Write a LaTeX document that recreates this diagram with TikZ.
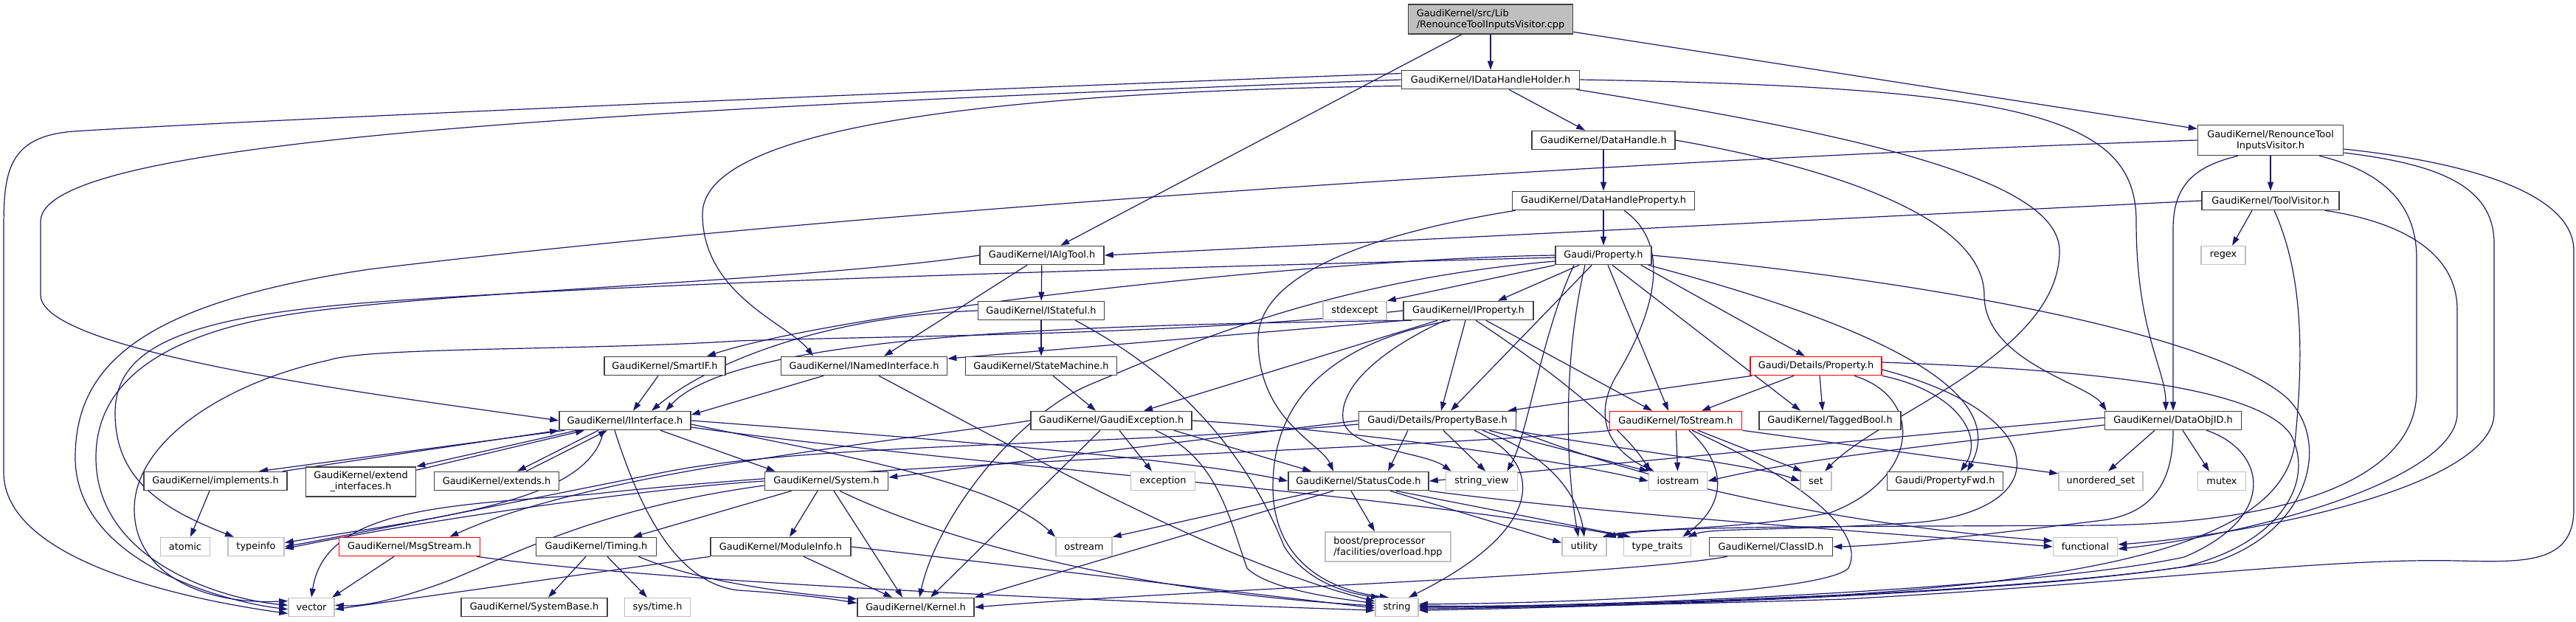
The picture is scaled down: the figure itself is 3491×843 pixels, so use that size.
\documentclass[tikz,border=0pt]{standalone}
\usepackage{fontspec}
\setmainfont{DejaVu Sans}
\usetikzlibrary{arrows.meta,calc}
\definecolor{mblue}{HTML}{191970}
\definecolor{gdark}{HTML}{404040}
\definecolor{glight}{HTML}{BFBFBF}
\pgfdeclarelayer{bgfill}
\pgfdeclarelayer{edges}
\pgfsetlayers{bgfill,edges,main}
\tikzset{
  hnode/.style={draw=gdark, line width=1.6pt, fill=white, inner sep=0pt, minimum height=25pt, font=\fontsize{12.9}{15}\selectfont, text=black},
  snode/.style={hnode, draw=glight},
  rnode/.style={hnode, draw=red},
  gnode/.style={hnode, fill=glight},
  inc/.style={draw=mblue, line width=1.2pt, -{Triangle[length=12pt,width=8pt]}},
}
\begin{document}
\begin{tikzpicture}[x=1pt,y=-1pt]
\begin{pgfonlayer}{bgfill}
\fill[white] (0,0) rectangle (3491,843);
\end{pgfonlayer}
\useasboundingbox (0,0) rectangle (3491,843);
% ---------------- nodes
\node[gnode, minimum width=223pt, minimum height=40pt, align=left] (root) at (2020,26) {GaudiKernel/src/Lib\\/RenounceToolInputsVisitor.cpp};
\node[hnode, minimum width=241pt] (idhh) at (2020,108) {GaudiKernel/IDataHandleHolder.h};
\node[hnode, minimum width=197pt, minimum height=41pt, align=center] (rtiv) at (3077,190) {GaudiKernel/RenounceTool\\InputsVisitor.h};
\node[hnode, minimum width=194pt] (dh) at (2173,190) {GaudiKernel/DataHandle.h};
\node[hnode, minimum width=247pt] (dhp) at (2173,272) {GaudiKernel/DataHandleProperty.h};
\node[hnode, minimum width=186pt] (tv) at (3077,272) {GaudiKernel/ToolVisitor.h};
\node[snode, minimum width=60pt] (regex) at (3013,346) {regex};
\node[hnode, minimum width=168pt] (ialgtool) at (1412,346) {GaudiKernel/IAlgTool.h};
\node[hnode, minimum width=130pt] (prop) at (2173,346) {Gaudi/Property.h};
\node[snode, minimum width=86pt] (stdexcept) at (1836,421) {stdexcept};
\node[hnode, minimum width=176pt] (iprop) at (1990,421) {GaudiKernel/IProperty.h};
\node[hnode, minimum width=171pt] (istateful) at (1411,421) {GaudiKernel/IStateful.h};
\node[hnode, minimum width=164pt] (smartif) at (901,496) {GaudiKernel/SmartIF.h};
\node[hnode, minimum width=225pt] (inamed) at (1171,496) {GaudiKernel/INamedInterface.h};
\node[hnode, minimum width=205pt] (statemachine) at (1411,496) {GaudiKernel/StateMachine.h};
\node[rnode, minimum width=178pt] (dprop) at (2461,496) {Gaudi/Details/Property.h};
\node[hnode, minimum width=178pt] (iiface) at (847,570) {GaudiKernel/IInterface.h};
\node[hnode, minimum width=218pt] (gexc) at (1506,570) {GaudiKernel/GaudiException.h};
\node[hnode, minimum width=213pt] (pbase) at (1948,570) {Gaudi/Details/PropertyBase.h};
\node[rnode, minimum width=179pt] (tostream) at (2271,570) {GaudiKernel/ToStream.h};
\node[hnode, minimum width=192pt] (tagged) at (2480,570) {GaudiKernel/TaggedBool.h};
\node[hnode, minimum width=185pt] (dataobjid) at (2945,570) {GaudiKernel/DataObjID.h};
\node[hnode, minimum width=194pt] (implements) at (292,652) {GaudiKernel/implements.h};
\node[hnode, minimum width=149pt, minimum height=40pt, align=center] (extif) at (489,653) {GaudiKernel/extend\\\_interfaces.h};
\node[hnode, minimum width=169pt] (extends) at (673,652) {GaudiKernel/extends.h};
\node[hnode, minimum width=167pt] (system) at (1120,652) {GaudiKernel/System.h};
\node[snode, minimum width=87pt] (exception) at (1576,652) {exception};
\node[hnode, minimum width=190pt] (statuscode) at (1841,652) {GaudiKernel/StatusCode.h};
\node[snode, minimum width=97pt] (stringview) at (2008,652) {string\_view};
\node[snode, minimum width=79pt] (iostream) at (2274,652) {iostream};
\node[snode, minimum width=42pt] (set) at (2461,652) {set};
\node[hnode, minimum width=157pt] (propfwd) at (2636,652) {Gaudi/PropertyFwd.h};
\node[snode, minimum width=114pt] (uset) at (2847,652) {unordered\_set};
\node[snode, minimum width=65pt] (mutex) at (3011,652) {mutex};
\node[snode, minimum width=67pt] (atomic) at (251,741) {atomic};
\node[snode, minimum width=76pt] (typeinfo) at (347,741) {typeinfo};
\node[rnode, minimum width=191pt] (msgstream) at (555,741) {GaudiKernel/MsgStream.h};
\node[hnode, minimum width=163pt] (timing) at (808,741) {GaudiKernel/Timing.h};
\node[hnode, minimum width=190pt] (moduleinfo) at (1058,741) {GaudiKernel/ModuleInfo.h};
\node[snode, minimum width=76pt] (ostream) at (1469,741) {ostream};
\node[snode, minimum width=170pt, minimum height=40pt, align=left] (boost) at (1881,741) {boost/preprocessor\\/facilities/overload.hpp};
\node[snode, minimum width=60pt] (utility) at (2147,741) {utility};
\node[snode, minimum width=91pt] (typetraits) at (2246,741) {type\_traits};
\node[hnode, minimum width=167pt] (classid) at (2400,741) {GaudiKernel/ClassID.h};
\node[snode, minimum width=87pt] (functional) at (2826,741) {functional};
\node[snode, minimum width=62pt] (vector) at (422,823) {vector};
\node[hnode, minimum width=198pt] (systembase) at (724,823) {GaudiKernel/SystemBase.h};
\node[snode, minimum width=89pt] (systime) at (891,823) {sys/time.h};
\node[hnode, minimum width=158pt] (kernel) at (1241,823) {GaudiKernel/Kernel.h};
\node[snode, minimum width=58pt] (string) at (1893,823) {string};
% ---------------- edges
\begin{pgfonlayer}{edges}
% root
\draw[inc] (root) -- (idhh);
\draw[inc] (root) -- (ialgtool);
\draw[inc] (root) -- (rtiv);
% IDataHandleHolder
\draw[inc] (idhh) -- (dh);
\draw[inc] (idhh.east) .. controls (2750,118) and (2895,160) .. (2895,300) .. controls (2895,450) and (2935,500) .. ($(dataobjid.north)+(-10,0)$);
\draw[inc] ($(idhh.south east)+(-5,0)$) .. controls (2500,180) and (2791,240) .. (2791,340) .. controls (2791,480) and (2550,560) .. ($(set.north)+(12,0)$);
\draw[inc] (idhh.176) .. controls (1200,125) and (300,165) .. (100,178) .. controls (5,185) and (5,240) .. (5,320) -- (5,640) .. controls (5,760) and (250,812) .. (vector.195);
\draw[inc] (idhh.180) .. controls (800,150) and (55,190) .. (55,300) -- (55,400) .. controls (55,480) and (550,540) .. (iiface.west);
\draw[inc] (idhh.184) .. controls (1300,125) and (952,180) .. (952,290) .. controls (952,400) and (1070,440) .. ($(inamed.north)+(-69,0)$);
% RenounceToolInputsVisitor.h
\draw[inc] (rtiv) -- (tv);
\draw[inc] ($(rtiv.south)+(-44,0)$) .. controls (2975,225) and (2945,250) .. (2945,310) -- (dataobjid.north);
\draw[inc] (rtiv.west) .. controls (2300,212) and (1200,280) .. (500,365) .. controls (200,410) and (102,490) .. (102,620) .. controls (102,760) and (300,815) .. (vector.185);
\draw[inc] ($(rtiv.east)+(0,12)$) .. controls (3300,215) and (3488,250) .. (3488,340) -- (3488,690) .. controls (3488,765) and (3420,762) .. (3330,760) .. controls (3150,756) and (2900,790) .. (2500,812) .. controls (2250,820) and (2050,823) .. (string.0);
\draw[inc] ($(rtiv.east)+(0,17)$) .. controls (3300,222) and (3380,250) .. (3380,330) -- (3380,560) .. controls (3380,660) and (3050,725) .. ($(functional.east)+(0,-3)$);
\draw[inc] ($(rtiv.south east)+(-33,0)$) .. controls (3220,230) and (3275,270) .. (3275,350) -- (3275,530) .. controls (3275,650) and (3100,708) .. (2850,712) .. controls (2500,714) and (2250,712) .. (utility.north east);
% DataHandle
\draw[inc] (dh) -- (dhp);
\draw[inc] (dh.east) .. controls (2500,230) and (2689,300) .. (2689,400) .. controls (2689,490) and (2830,520) .. ($(dataobjid.north west)+(3,0)$);
% DataHandleProperty
\draw[inc] (dhp) -- (prop);
\draw[inc] ($(dhp.south west)+(5,0)$) .. controls (1900,310) and (1705,360) .. (1705,460) .. controls (1705,570) and (1790,600) .. ($(statuscode.north)+(-34,0)$);
\draw[inc] ($(dhp.south)+(28,0)$) .. controls (2265,330) and (2245,420) .. (2190,510) .. controls (2150,580) and (2200,620) .. ($(iostream.north west)+(8,0)$);
% ToolVisitor
\draw[inc] (tv.west) -- (ialgtool.east);
\draw[inc] ($(tv.south)+(-25,0)$) -- ($(regex.north)+(12,0)$);
\draw[inc] ($(tv.south east)+(-20,0)$) .. controls (3250,300) and (3330,340) .. (3330,420) -- (3330,560) .. controls (3330,650) and (3050,725) .. ($(functional.east)+(0,3)$);
\draw[inc] ($(tv.south)+(5,0)$) .. controls (3125,380) and (3120,500) .. (3110,600) .. controls (3095,720) and (2900,780) .. (2500,806) .. controls (2250,818) and (2050,823) .. (string.4);
% IAlgTool
\draw[inc] (ialgtool) -- (istateful);
\draw[inc] ($(ialgtool.south)+(-20,0)$) -- ($(inamed.north)+(27,0)$);
\draw[inc] (ialgtool.west) .. controls (1100,380) and (600,395) .. (400,425) .. controls (200,455) and (130,530) .. (130,620) .. controls (130,760) and (300,812) .. (vector.175);
% Gaudi/Property.h
\draw[inc] ($(prop.south west)+(33,0)$) -- ($(iprop.north east)+(-49,0)$);
\draw[inc] ($(prop.south west)+(50,0)$) -- ($(pbase.north)+(18,0)$);
\draw[inc] ($(prop.south)+(6,0)$) -- ($(tostream.north)+(-10,0)$);
\draw[inc] ($(prop.south)+(12,0)$) -- ($(tagged.north)+(-40,0)$);
\draw[inc] ($(prop.south east)+(-15,0)$) -- ($(dprop.north)+(-15,0)$);
\draw[inc] ($(prop.south east)+(-5,0)$) .. controls (2500,430) and (2730,520) .. ($(propfwd.north)+(30,0)$);
\draw[inc] (prop.east) .. controls (2600,380) and (3000,450) .. (3100,540) .. controls (3160,600) and (3130,720) .. (3000,762) .. controls (2750,805) and (2150,823) .. (string.-4);
\draw[inc] (prop.west) .. controls (1800,350) and (1150,420) .. ($(smartif.north east)+(-26,0)$);
\draw[inc] ($(prop.west)+(0,3)$) .. controls (1700,360) and (900,380) .. (500,410) .. controls (250,430) and (156,470) .. (156,560) .. controls (156,650) and (220,690) .. ($(typeinfo.north)+(-30,0)$);
\draw[inc] (prop.south west) -- (stdexcept.north east);
\draw[inc] ($(prop.west)+(0,8)$) .. controls (1800,380) and (1600,470) .. (1480,520) .. controls (1380,560) and (1270,700) .. ($(kernel.north)+(5,0)$);
\draw[inc] ($(prop.south)+(-40,0)$) .. controls (2090,450) and (2070,590) .. ($(stringview.north east)+(-15,0)$);
\draw[inc] ($(prop.south)+(-25,0)$) .. controls (2120,480) and (2120,620) .. ($(utility.north)+(-8,0)$);
% IProperty
\draw[inc] ($(iprop.south west)+(2,0)$) -- (inamed.5);
\draw[inc] ($(iprop.south west)+(12,0)$) .. controls (1500,440) and (1000,450) .. ($(iiface.north)+(55,0)$);
\draw[inc] ($(iprop.south)+(-42,0)$) -- ($(gexc.north)+(44,0)$);
\draw[inc] ($(iprop.south)+(-4,0)$) -- ($(pbase.north)+(5,0)$);
\draw[inc] ($(iprop.south east)+(-65,0)$) -- ($(tostream.north)+(-32,0)$);
\draw[inc] ($(iprop.south)+(10,0)$) .. controls (2100,500) and (2200,580) .. ($(iostream.north west)+(3,0)$);
\draw[inc] ($(iprop.south)+(-32,0)$) .. controls (1880,470) and (1815,520) .. (1820,568) .. controls (1825,610) and (1930,612) .. ($(stringview.north west)+(8,0)$);
\draw[inc] ($(iprop.south)+(-25,0)$) .. controls (1780,470) and (1725,560) .. (1725,660) .. controls (1725,760) and (1800,800) .. (string.130);
\draw[inc] (iprop.west) .. controls (1600,455) and (1200,455) .. (1000,462) .. controls (800,475) and (500,470) .. (446,488) .. controls (300,520) and (182,600) .. (182,690) .. controls (182,780) and (280,820) .. (vector.165);
% IStateful
\draw[inc] (istateful) -- (statemachine);
\draw[inc] (istateful.west) .. controls (1100,430) and (950,500) .. ($(iiface.north)+(36,0)$);
\draw[inc] ($(istateful.south east)+(-40,0)$) .. controls (1620,520) and (1700,640) .. (1740,740) .. controls (1770,790) and (1830,805) .. (string.150);
% StateMachine
\draw[inc] ($(statemachine.south)+(16,0)$) -- ($(gexc.north)+(-21,0)$);
% INamedInterface
\draw[inc] ($(inamed.south)+(-55,0)$) -- (iiface.5);
\draw[inc] ($(inamed.south)+(20,0)$) .. controls (1400,620) and (1650,760) .. (string.165);
% SmartIF
\draw[inc] ($(smartif.south)+(-9,0)$) -- ($(iiface.north)+(11,0)$);
% Details/Property
\draw[inc] ($(dprop.south west)+(3,0)$) -- ($(pbase.north east)+(-12,0)$);
\draw[inc] ($(dprop.south)+(-30,0)$) -- ($(tostream.north)+(35,0)$);
\draw[inc] ($(dprop.south)+(5,0)$) -- ($(tagged.north)+(-10,0)$);
\draw[inc] ($(dprop.south)+(52,0)$) .. controls (2610,540) and (2600,650) .. (2480,695) .. controls (2350,720) and (2220,715) .. ($(utility.north east)+(-6,0)$);
\draw[inc] (dprop.south east) .. controls (2650,530) and (2690,590) .. ($(propfwd.north)+(21,0)$);
\draw[inc] ($(dprop.east)+(0,-5)$) .. controls (2800,500) and (3060,520) .. (3105,590) .. controls (3140,660) and (3080,740) .. (2960,768) .. controls (2700,808) and (2150,823) .. (string.-8);
\draw[inc] ($(dprop.east)+(0,5)$) .. controls (2780,560) and (2790,690) .. (2600,708) .. controls (2420,720) and (2320,715) .. ($(typetraits.north east)+(-5,0)$);
% GaudiException
\draw[inc] ($(gexc.south)+(-15,0)$) -- ($(kernel.north)+(20,0)$);
\draw[inc] ($(gexc.south)+(11,0)$) -- ($(exception.north)+(-15,0)$);
\draw[inc] ($(gexc.south east)+(-25,0)$) -- ($(statuscode.north west)+(32,0)$);
\draw[inc] ($(gexc.south east)+(-50,0)$) .. controls (1650,620) and (1665,700) .. (1690,770) .. controls (1720,800) and (1820,812) .. (string.170);
\draw[inc] (gexc.east) .. controls (1800,580) and (2100,620) .. (iostream.west);
\draw[inc] (gexc.west) .. controls (1200,600) and (800,640) .. ($(msgstream.north east)+(-42,0)$);
% PropertyBase
\draw[inc] ($(pbase.south)+(-40,0)$) -- ($(statuscode.north)+(40,0)$);
\draw[inc] ($(pbase.south)+(8,0)$) -- ($(stringview.north)+(5,0)$);
\draw[inc] ($(pbase.south)+(50,0)$) .. controls (2100,630) and (2090,720) .. (string.40);
\draw[inc] ($(pbase.south)+(61,0)$) .. controls (2110,620) and (2140,680) .. (utility.north);
\draw[inc] ($(pbase.south)+(70,0)$) -- (iostream.north west);
\draw[inc] ($(pbase.south east)+(-5,0)$) .. controls (2200,610) and (2380,630) .. (set.west);
\draw[inc] (pbase.west) -- ($(system.east)+(0,-5)$);
\draw[inc] ($(pbase.west)+(0,5)$) .. controls (1500,605) and (1100,600) .. (900,640) .. controls (700,680) and (500,720) .. (typeinfo.east);
\draw[inc] (pbase.south east) .. controls (2300,680) and (2600,720) .. (functional.170);
% ToStream
\draw[inc] (tostream) -- (iostream);
\draw[inc] ($(tostream.south)+(30,0)$) -- ($(set.north west)+(3,0)$);
\draw[inc] ($(tostream.south)+(18,0)$) .. controls (2350,640) and (2330,690) .. ($(typetraits.north east)+(-12,0)$);
\draw[inc] ($(tostream.south)+(22,0)$) .. controls (2440,650) and (2530,720) .. (2505,770) .. controls (2470,805) and (2100,818) .. (string.8);
\draw[inc] (tostream.south east) -- (uset.170);
\draw[inc] ($(tostream.south west)+(3,0)$) .. controls (1900,610) and (1200,625) .. (800,670) .. controls (600,685) and (440,690) .. (vector.north);
% DataObjID
\draw[inc] ($(dataobjid.south)+(-25,0)$) -- ($(uset.north)+(10,0)$);
\draw[inc] ($(dataobjid.south)+(13,0)$) -- ($(mutex.north)+(-17,0)$);
\draw[inc] (dataobjid.south) .. controls (2945,650) and (2920,695) .. (2850,705) .. controls (2650,730) and (2540,740) .. (classid.east);
\draw[inc] ($(dataobjid.south east)+(-48,0)$) .. controls (3070,610) and (3090,700) .. (2960,755) .. controls (2750,800) and (2150,823) .. (string.2);
\draw[inc] ($(dataobjid.west)+(0,6)$) .. controls (2650,600) and (2450,620) .. (iostream.east);
\draw[inc] ($(dataobjid.west)+(0,-4)$) -- (statuscode.east);
% IInterface
\draw[inc] ($(iiface.south west)+(8,0)$) -- ($(implements.north)+(59,0)$);
\draw[inc] ($(implements.north)+(91,0)$) -- (iiface.south west);
\draw[inc] ($(iiface.south)+(-65,0)$) -- (extif.north east);
\draw[inc] ($(extif.north east)+(0,5)$) -- ($(iiface.south)+(-55,0)$);
\draw[inc] ($(iiface.south)+(-36,0)$) -- ($(extends.north)+(28,0)$);
\draw[inc] ($(extends.north)+(40,0)$) -- ($(iiface.south)+(-24,0)$);
\draw[inc] ($(iiface.south)+(48,0)$) -- ($(system.north west)+(15,0)$);
\draw[inc] ($(iiface.south)+(-29,0)$) .. controls (800,680) and (600,700) .. (typeinfo.8);
\draw[inc] ($(iiface.south)+(-14,0)$) .. controls (870,700) and (920,790) .. (1000,800) .. controls (1080,805) and (1130,812) .. (kernel.176);
\draw[inc] (iiface.east) .. controls (1200,590) and (1600,620) .. (statuscode.west);
\draw[inc] ($(iiface.east)+(0,5)$) .. controls (1100,610) and (1350,650) .. (ostream.north west);
\draw[inc] ($(iiface.east)+(0,9)$) .. controls (1300,630) and (1900,670) .. ($(typetraits.north west)+(5,0)$);
% System
\draw[inc] ($(system.south)+(-12,0)$) -- ($(moduleinfo.north)+(12,0)$);
\draw[inc] ($(system.south west)+(37,0)$) -- ($(timing.north)+(50,0)$);
\draw[inc] ($(system.south)+(10,0)$) -- ($(kernel.north)+(-18,0)$);
\draw[inc] ($(system.south)+(18,0)$) .. controls (1250,720) and (1500,800) .. (string.176);
\draw[inc] (system.west) .. controls (900,660) and (600,700) .. (typeinfo.-4);
\draw[inc] ($(system.west)+(0,6)$) .. controls (800,690) and (680,760) .. (600,790) .. controls (530,815) and (490,822) .. (vector.5);
% ModuleInfo
\draw[inc] ($(moduleinfo.south)+(31,0)$) -- ($(kernel.north west)+(48,0)$);
\draw[inc] (moduleinfo.east) .. controls (1400,770) and (1700,805) .. (string.182);
\draw[inc] (moduleinfo.south west) -- (vector.-5);
% Timing
\draw[inc] ($(timing.south)+(-14,0)$) -- ($(systembase.north)+(19,0)$);
\draw[inc] ($(timing.south)+(15,0)$) -- ($(systime.north)+(-14,0)$);
\draw[inc] ($(timing.south east)+(-25,0)$) .. controls (950,790) and (1080,805) .. (kernel.172);
% MsgStream
\draw[inc] ($(msgstream.south)+(-21,0)$) -- ($(vector.north)+(28,0)$);
\draw[inc] ($(msgstream.south east)+(-5,0)$) .. controls (900,790) and (1500,815) .. (string.188);
% implements
\draw[inc] ($(implements.south)+(-8,0)$) -- ($(atomic.north)+(7,0)$);
% StatusCode
\draw[inc] ($(statuscode.south)+(-10,0)$) -- ($(boost.north)+(-18,0)$);
\draw[inc] ($(statuscode.south)+(-34,0)$) -- (kernel.north east);
\draw[inc] ($(statuscode.south west)+(42,0)$) -- (ostream.north east);
\draw[inc] ($(statuscode.south)+(43,0)$) -- (utility.170);
\draw[inc] ($(statuscode.south east)+(-45,0)$) -- ($(typetraits.north west)+(10,0)$);
\draw[inc] (statuscode.south east) .. controls (2200,700) and (2600,725) .. (functional.west);
% ClassID
\draw[inc] ($(classid.south west)+(25,0)$) .. controls (2200,780) and (1600,800) .. (kernel.east);
\end{pgfonlayer}
\end{tikzpicture}
\end{document}
